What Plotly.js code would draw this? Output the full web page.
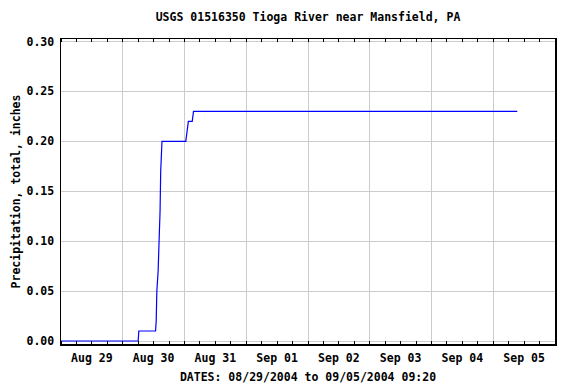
<!DOCTYPE html>
<html>
<head>
<meta charset="utf-8">
<script src="https://cdn.plot.ly/plotly-3.0.1.min.js"></script>
<style>html,body{margin:0;padding:0;background:#fff;}#chart{width:576px;height:384px;}</style>
</head>
<body>
<div id="chart"></div>
<script>
// Data
const times = [
  '2004-08-29 00:00', '2004-08-30 06:00', '2004-08-30 06:15', '2004-08-30 12:45',
  '2004-08-30 13:00', '2004-08-30 13:15', '2004-08-30 13:45', '2004-08-30 14:15',
  '2004-08-30 14:30', '2004-08-30 14:45', '2004-08-30 15:15', '2004-08-31 00:30',
  '2004-08-31 01:00', '2004-08-31 01:30', '2004-08-31 03:00', '2004-08-31 03:30',
  '2004-09-05 09:20'
];
const precip = [
  0.00, 0.00, 0.01, 0.01,
  0.02, 0.05, 0.07, 0.10,
  0.13, 0.17, 0.20, 0.20,
  0.21, 0.22, 0.22, 0.23,
  0.23
];
const titleText = 'USGS 01516350 Tioga River near Mansfield, PA';
const xTitle = 'DATES: 08/29/2004 to 09/05/2004 09:20';
const yTitle = 'Precipitation, total, inches';
const xRange = ['2004-08-29 00:00', '2004-09-06 00:00'];

const font = {family: 'DejaVu Sans Mono, monospace', size: 11.5, color: '#000'};
const boldFont = Object.assign({}, font, {weight: 'bold'});

const trace = {
  x: times, y: precip, type: 'scatter', mode: 'lines',
  line: {color: '#0000ff', width: 1.2, shape: 'linear'},
  hoverinfo: 'skip'
};

const layout = {
  width: 576, height: 384,
  margin: {l: 61, r: 21, t: 39, b: 40, pad: 0},
  paper_bgcolor: '#ffffff', plot_bgcolor: '#ffffff',
  showlegend: false,
  font: boldFont,
  title: {text: titleText, font: boldFont, x: 0.5, xref: 'paper', xanchor: 'center', y: 1 - 17/384, yref: 'container', yanchor: 'middle'},
  xaxis: {
    type: 'date', range: xRange,
    dtick: 86400000, tick0: '2004-08-29 00:00',
    tickformat: '%b %d', ticklabelmode: 'period',
    showgrid: true, gridcolor: '#cccccc', gridwidth: 1,
    showline: true, linecolor: '#000', linewidth: 1.5, mirror: 'ticks',
    ticks: 'inside', ticklen: 3, tickcolor: '#000', tickwidth: 1,
    minor: {dtick: 6*3600000, ticks: 'inside', ticklen: 3, tickcolor: '#000', tickwidth: 1, showgrid: false},
    tickfont: boldFont, ticklabelstandoff: 3,
    zeroline: false, fixedrange: true,
    title: {text: xTitle, font: boldFont, standoff: 8}
  },
  yaxis: {
    range: [-0.003, 0.3025],
    dtick: 0.05, tick0: 0, tickformat: '.2f',
    showgrid: true, gridcolor: '#cccccc', gridwidth: 1,
    showline: true, linecolor: '#000', linewidth: 1.5, mirror: true,
    ticks: '', ticklabelstandoff: 3,
    tickfont: boldFont,
    zeroline: false, fixedrange: true,
    title: {text: yTitle, font: boldFont, standoff: 3}
  }
};

Plotly.newPlot('chart', [trace], layout, {staticPlot: true, displayModeBar: false});
</script>
</body>
</html>
